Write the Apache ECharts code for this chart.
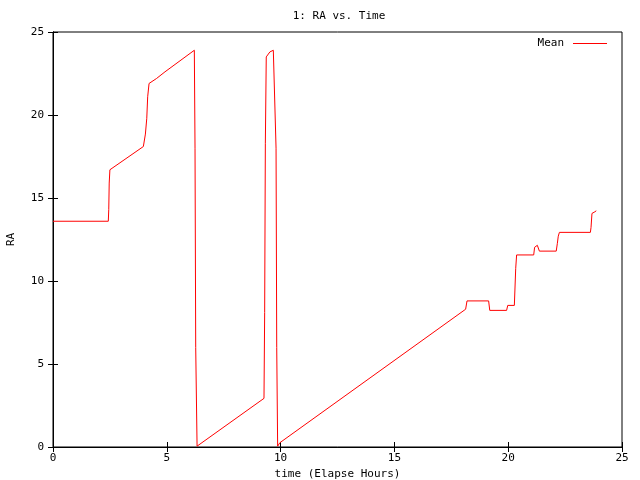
<!DOCTYPE html>
<html>
<head>
<meta charset="utf-8">
<script src="https://cdn.jsdelivr.net/npm/echarts@6/dist/echarts.min.js"></script>
<style>html,body{margin:0;padding:0;background:#fff;}#c{width:640px;height:480px;}</style>
</head>
<body>
<div id="c"></div>
<script>
const chartTitle = "1: RA vs. Time";
const xAxisName = "time (Elapse Hours)";
const yAxisName = "RA";
const seriesName = "Mean";
const xTicks = [0, 5, 10, 15, 20, 25];
const yTicks = [0, 5, 10, 15, 20, 25];
const timeHours = [
  0, 2.43, 2.45, 2.47, 2.5, 3.97, 4.06, 4.12, 4.16, 4.22, 4.55, 4.92, 6.21,
  6.24, 6.27, 6.33, 9.27, 9.3, 9.33, 9.37, 9.53, 9.68, 9.76, 9.8, 9.83, 9.87,
  9.97, 18.13, 18.19, 19.14, 19.19, 19.93, 19.98, 20.27, 20.33, 20.37, 21.12,
  21.16, 21.21, 21.28, 21.31, 21.37, 22.11, 22.16, 22.2, 22.25, 23.61, 23.64,
  23.68, 23.81, 23.87
];
const raValues = [
  13.6, 13.6, 14.3, 15.9, 16.7, 18.1, 18.85, 19.8, 21.1, 21.9, 22.2, 22.6, 23.9,
  18.0, 6.0, 0.05, 2.93, 8.1, 18.3, 23.5, 23.8, 23.9, 23.9, 18.0, 6.0, 0.05,
  0.26, 8.3, 8.8, 8.8, 8.23, 8.23, 8.53, 8.53, 10.76, 11.57, 11.57,
  12.03, 12.15, 12.15, 12.03, 11.8, 11.8, 12.27, 12.7, 12.93, 12.93, 13.23,
  14.07, 14.17, 14.23
];

const font = "'DejaVu Sans Mono', monospace";
const data = timeHours.map((t, i) => [t, raValues[i]]);
const chart = echarts.init(document.getElementById('c'), null, {renderer: 'canvas'});
const axisCommon = {
  type: 'value', min: 0, max: 25, interval: 5,
  axisLine: {show: true, lineStyle: {color: '#000', width: 1}},
  axisTick: {show: true, inside: true, length: 5, lineStyle: {color: '#000'}},
  splitLine: {show: false}
};
chart.setOption({
  animation: false,
  backgroundColor: '#fff',
  title: {
    text: chartTitle, left: 334, top: 6, textAlign: 'center',
    textStyle: {fontFamily: font, fontSize: 11, fontWeight: 'normal', color: '#000'}
  },
  legend: {
    right: 28, top: 33, align: 'right', itemWidth: 34, itemHeight: 1, itemGap: 0,
    data: [{name: seriesName, icon: 'rect', itemStyle: {color: '#ff0000'}}],
    textStyle: {fontFamily: font, fontSize: 11, color: '#000', padding: [0, 4, 0, 0]}
  },
  grid: {left: 53, right: 18, top: 32, bottom: 33, containLabel: false, outerBoundsMode: 'none', show: true, borderColor: '#000', borderWidth: 1},
  xAxis: [
    Object.assign({}, axisCommon, {
      position: 'bottom',
      name: xAxisName, nameLocation: 'middle', nameGap: 20,
      nameTextStyle: {fontFamily: font, fontSize: 11, color: '#000'},
      axisLabel: {fontFamily: font, fontSize: 11, color: '#000', margin: 6, formatter: v => xTicks.includes(v) ? String(v) : ''}
    }),
    Object.assign({}, axisCommon, {position: 'top', axisLabel: {show: false}})
  ],
  yAxis: [
    Object.assign({}, axisCommon, {
      position: 'left',
      name: yAxisName, nameLocation: 'middle', nameGap: 36, nameRotate: 90,
      nameTextStyle: {fontFamily: font, fontSize: 11, color: '#000'},
      axisLabel: {fontFamily: font, fontSize: 11, color: '#000', margin: 9, formatter: v => yTicks.includes(v) ? String(v) : ''}
    }),
    Object.assign({}, axisCommon, {position: 'right', axisLabel: {show: false}})
  ],
  series: [{
    name: seriesName, type: 'line', data: data, showSymbol: false, symbol: 'none',
    xAxisIndex: 0, yAxisIndex: 0,
    lineStyle: {color: '#ff0000', width: 1}, itemStyle: {color: '#ff0000'}
  }]
});
</script>
</body>
</html>
